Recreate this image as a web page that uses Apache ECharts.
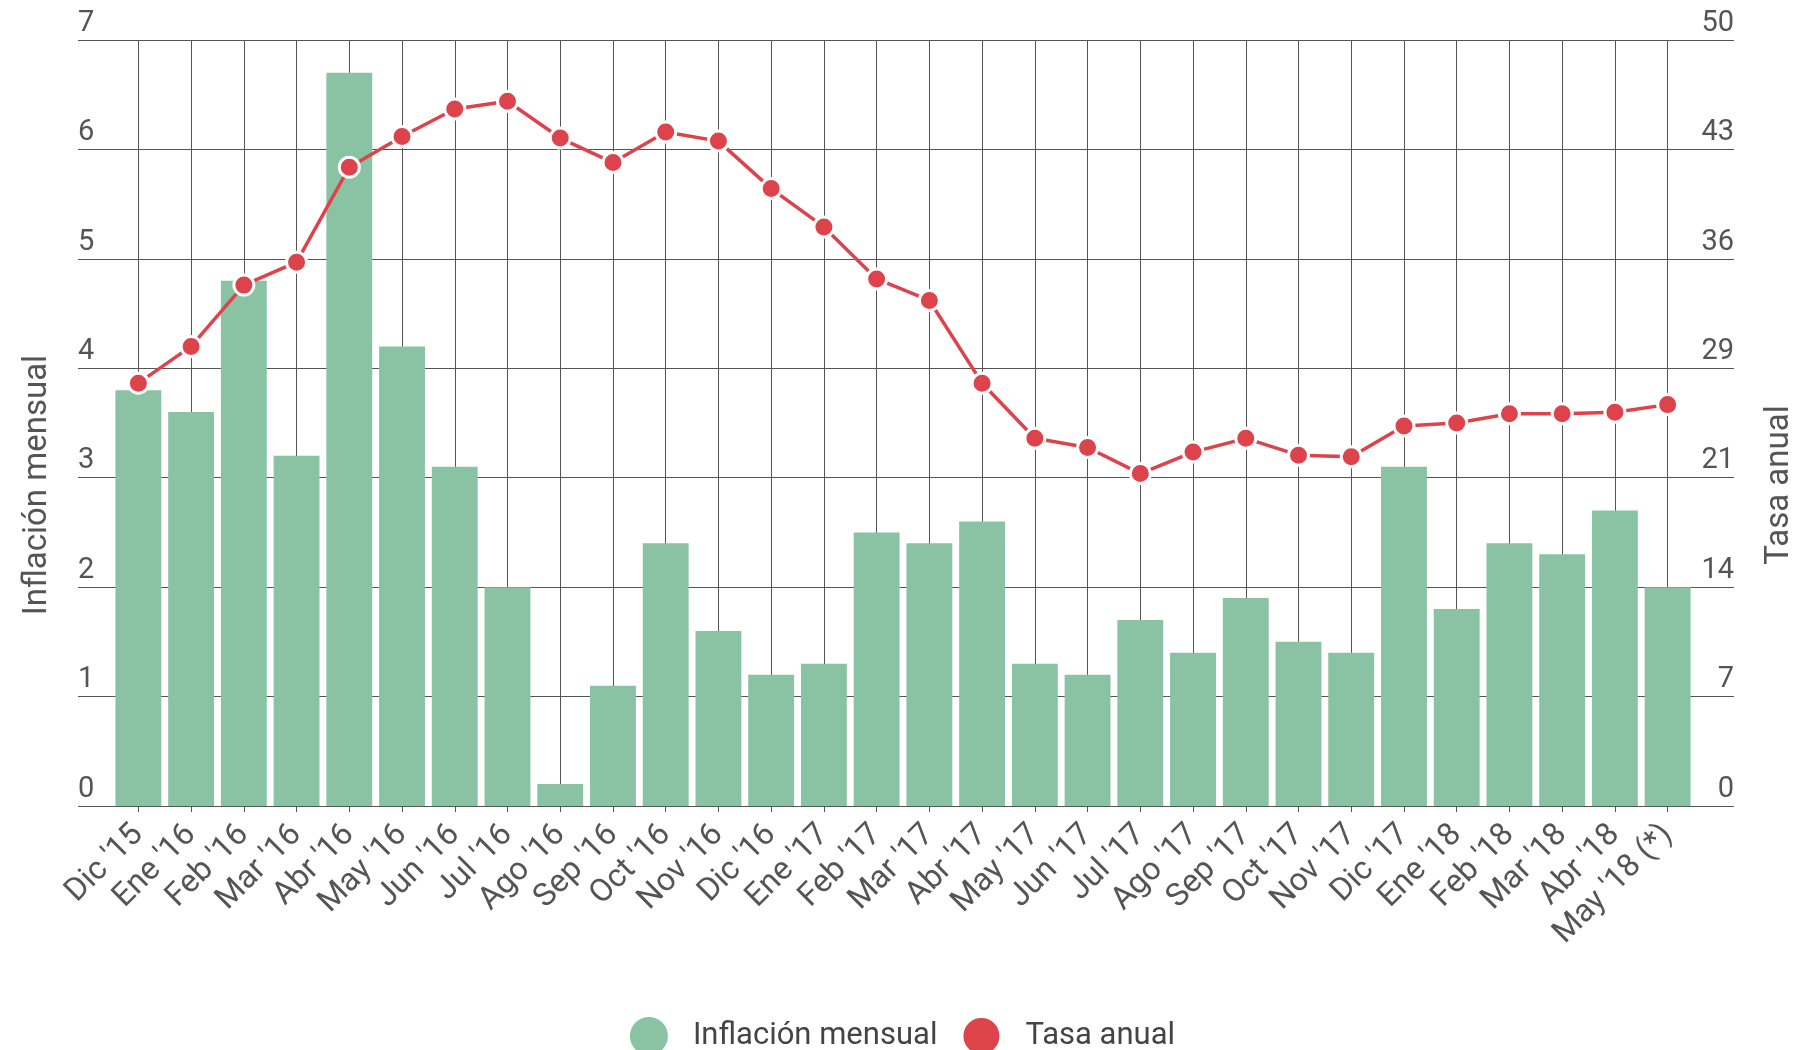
<!DOCTYPE html>
<html>
<head>
<meta charset="utf-8">
<script src="https://cdn.jsdelivr.net/npm/echarts@6/dist/echarts.min.js"></script>
<style>
html,body{margin:0;padding:0;background:#fff;}
#chart{width:1805px;height:1050px;}
</style>
</head>
<body>
<div id="chart"></div>
<script>
const categories = ["Dic '15","Ene '16","Feb '16","Mar '16","Abr '16","May '16","Jun '16","Jul '16","Ago '16","Sep '16","Oct '16","Nov '16","Dic '16","Ene '17","Feb '17","Mar '17","Abr '17","May '17","Jun '17","Jul '17","Ago '17","Sep '17","Oct '17","Nov '17","Dic '17","Ene '18","Feb '18","Mar '18","Abr '18","May '18 (*)"];
const inflacionMensual = [3.8,3.6,4.8,3.2,6.7,4.2,3.1,2.0,0.2,1.1,2.4,1.6,1.2,1.3,2.5,2.4,2.6,1.3,1.2,1.7,1.4,1.9,1.5,1.4,3.1,1.8,2.4,2.3,2.7,2.0];
const tasaAnual = [27.6,30.0,34.0,35.5,41.7,43.7,45.5,46.0,43.6,42.0,44.0,43.4,40.3,37.8,34.4,33.0,27.6,24.0,23.4,21.7,23.1,24.0,22.9,22.8,24.8,25.0,25.6,25.6,25.7,26.2];
const leftTickLabels = ["0","1","2","3","4","5","6","7"];
const rightTickLabels = ["0","7","14","21","29","36","43","50"];

const FONT = 'Roboto';
const GRID_COLOR = '#555';
const chart = echarts.init(document.getElementById('chart'));
const option = {
  animation: false,
  textStyle: {fontFamily: FONT},
  grid: [
    {left: 112, right: 111, top: 40, bottom: 244},
    {left: 78, right: 71, top: 40, bottom: 244}
  ],
  legend: {
    data: ['Inflación mensual', 'Tasa anual'],
    top: 1011,
    left: 'center',
    icon: 'circle',
    itemWidth: 38,
    itemHeight: 38,
    itemGap: 24,
    textStyle: {fontSize: 31, color: '#444', fontFamily: FONT, padding: [0, 0, 0, 20]}
  },
  xAxis: [
    {
      type: 'category', gridIndex: 0, data: categories,
      axisLine: {show: false},
      axisTick: {show: true, alignWithLabel: true, length: 6, lineStyle: {color: GRID_COLOR}},
      splitLine: {show: true, alignWithLabel: true, lineStyle: {color: GRID_COLOR, width: 1}},
      axisLabel: {rotate: 45, fontSize: 32, color: '#555', margin: 24, interval: 0, fontFamily: FONT}
    },
    {type: 'category', gridIndex: 1, data: [''], show: false}
  ],
  yAxis: [
    {type: 'value', gridIndex: 0, min: 0, max: 7, interval: 1, show: false},
    {type: 'value', gridIndex: 0, min: 0, max: 50, interval: 50 / 7, show: false},
    {
      type: 'value', gridIndex: 1, position: 'left', min: 0, max: 7, interval: 1,
      axisLine: {show: false}, axisTick: {show: false},
      splitLine: {show: true, lineStyle: {color: GRID_COLOR, width: 1}},
      axisLabel: {inside: true, align: 'left', verticalAlign: 'bottom', margin: 0, padding: [0, 0, 2, 0],
        fontSize: 29, color: '#555', fontFamily: FONT,
        formatter: (v, i) => leftTickLabels[i]},
      name: 'Inflación mensual', nameLocation: 'middle', nameGap: 24,
      nameTextStyle: {fontSize: 33, color: '#555', fontFamily: FONT, padding: [0, 124, 0, 0]}
    },
    {
      type: 'value', gridIndex: 1, position: 'right', min: 0, max: 50, interval: 50 / 7,
      axisLine: {show: false}, axisTick: {show: false},
      splitLine: {show: false},
      axisLabel: {inside: true, align: 'right', verticalAlign: 'bottom', margin: 0, padding: [0, 0, 2, 0],
        fontSize: 29, color: '#555', fontFamily: FONT,
        formatter: (v, i) => rightTickLabels[i]},
      name: 'Tasa anual', nameLocation: 'middle', nameGap: 29,
      nameTextStyle: {fontSize: 33, color: '#555', fontFamily: FONT, padding: [0, 124, 0, 0]}
    }
  ],
  series: [
    {
      name: 'Inflación mensual', type: 'bar', xAxisIndex: 0, yAxisIndex: 0,
      data: inflacionMensual, barCategoryGap: '13%',
      itemStyle: {color: '#89c3a3'}
    },
    {
      name: 'Tasa anual', type: 'line', xAxisIndex: 0, yAxisIndex: 1,
      data: tasaAnual, symbol: 'circle', symbolSize: 20,
      itemStyle: {color: '#dd434b', borderColor: '#fff', borderWidth: 3},
      lineStyle: {color: '#dd434b', width: 3.5}
    }
  ]
};
chart.setOption(option);
</script>
</body>
</html>
